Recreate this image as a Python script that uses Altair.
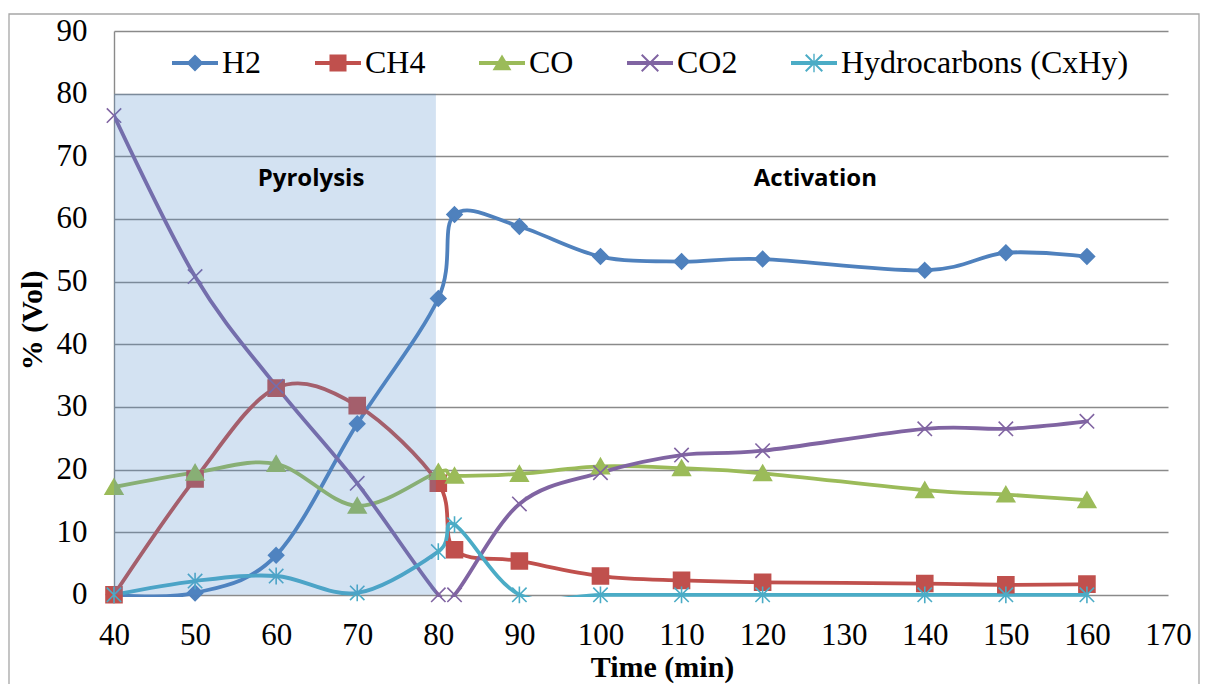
import altair as alt
import pandas as pd

# ---- data ----
time_min = [40, 50, 60, 70, 80, 82, 90, 100, 110, 120, 140, 150, 160]
h2 = [0.0, 0.3, 6.3, 27.3, 47.3, 60.7, 58.8, 54.0, 53.2, 53.6, 51.8, 54.6, 54.0]
ch4 = [0.0, 18.5, 33.0, 30.2, 17.8, 7.2, 5.4, 3.0, 2.3, 2.0, 1.8, 1.6, 1.7]
co = [17.2, 19.5, 20.9, 14.2, 19.6, 19.0, 19.3, 20.5, 20.2, 19.4, 16.7, 16.0, 15.1]
co2 = [76.5, 50.8, 33.3, 17.8, 0.0, 0.0, 14.5, 19.5, 22.3, 23.0, 26.5, 26.5, 27.7]
hc = [0.0, 2.2, 3.0, 0.3, 6.9, 11.2, 0.0, 0.0, 0.0, 0.0, 0.0, 0.0, 0.0]

series_names = ["H2", "CH4", "CO", "CO2", "Hydrocarbons (CxHy)"]
series_colors = ["#4F81BD", "#C0504D", "#9BBB59", "#8064A2", "#4BACC6"]

x_ticks = list(range(40, 180, 10))
y_ticks = list(range(0, 100, 10))

phase_labels = ["Pyrolysis", "Activation"]
phase_x = [64.3, 126.5]
phase_y = [66.4, 66.4]

shade_x = [40, 79.7]
shade_y = [0, 80]

# ---- tables ----
rows = []
for name, vals in zip(series_names, [h2, ch4, co, co2, hc]):
    for t, v in zip(time_min, vals):
        rows.append({"time": t, "value": v, "series": name})
df = pd.DataFrame(rows)

shade_df = pd.DataFrame({"x": [shade_x[0]], "x2": [shade_x[1]],
                         "y": [shade_y[0]], "y2": [shade_y[1]]})
label_df = pd.DataFrame({"label": phase_labels, "x": phase_x, "y": phase_y})

# ---- shapes ----
marker_shapes = [
    "M0,-0.95L0.95,0L0,0.95L-0.95,0Z",
    "M-1,-1H1V1H-1Z",
    "M0,-1L1.1,0.9H-1.1Z",
    "M-0.9,-0.9L0.9,0.9M-0.9,0.9L0.9,-0.9",
    "M-0.9,-0.9L0.9,0.9M-0.9,0.9L0.9,-0.9M0,-1.05L0,1.05",
]
bar = "M-1,-0.085H1V0.085H-1Z"
xmark = ("M-0.33,-0.39L0.39,0.33L0.33,0.39L-0.39,-0.33Z"
         "M-0.39,0.33L0.33,-0.39L0.39,-0.33L-0.33,0.39Z")
legend_shapes = [
    bar + "M0,-0.37L0.37,0L0,0.37L-0.37,0Z",
    bar + "M-0.37,-0.37H0.37V0.37H-0.37Z",
    bar + "M0,-0.37L0.41,0.31H-0.41Z",
    bar + xmark,
    bar + xmark + "M-0.03,-0.4H0.03V0.4H-0.03Z",
]

serif = "Liberation Serif"

x_enc = alt.X("time:Q", scale=alt.Scale(domain=[40, 170], nice=False, zero=False),
              axis=alt.Axis(values=x_ticks, title="Time (min)", grid=False, domain=False,
                            ticks=False, tickSize=0, labelFont=serif, labelFontSize=31,
                            labelColor="black", labelPadding=47, labelBaseline="alphabetic",
                            labelFlush=False, labelOverlap=False,
                            titleFont=serif, titleFontSize=30, titleFontWeight="bold",
                            titleColor="black", titleX=548, titleY=79,
                            titleBaseline="alphabetic", titleAlign="center"))
y_enc = alt.Y("value:Q", scale=alt.Scale(domain=[-0.35, 90], nice=False, zero=False),
              axis=alt.Axis(values=y_ticks, title="% (Vol)", grid=True, gridColor="#8A8A8A",
                            gridWidth=1.4, domain=True, domainColor="#8A8A8A", domainWidth=1.4,
                            ticks=False, tickSize=0, labelFont=serif, labelFontSize=31,
                            labelColor="black", labelPadding=27, labelBaseline="middle",
                            labelFlush=False, labelOverlap=False,
                            titleFont=serif, titleFontSize=30, titleFontWeight="bold",
                            titleColor="black", titleX=-73, titleY=289, titleAngle=270,
                            titleBaseline="alphabetic", titleAlign="center"))

stroke_scale = alt.Scale(domain=series_names, range=series_colors)

base = alt.Chart(df)

lines = base.mark_line(interpolate="cardinal", strokeWidth=3.8, clip=True,
                       strokeCap="round", strokeJoin="round").encode(
    x=x_enc, y=y_enc,
    stroke=alt.Stroke("series:N", scale=stroke_scale, legend=None),
)

points = base.mark_point(filled=True, opacity=1, size=256, strokeWidth=1.6).encode(
    x="time:Q", y="value:Q",
    shape=alt.Shape("series:N", scale=alt.Scale(domain=series_names, range=marker_shapes),
                    legend=None),
    stroke=alt.Stroke("series:N", scale=stroke_scale, legend=None),
    fill=alt.condition(
        "datum.series === 'CO2' || datum.series === 'Hydrocarbons (CxHy)'",
        alt.value("transparent"),
        alt.Fill("series:N", scale=alt.Scale(domain=series_names, range=series_colors),
                 legend=None),
    ),
)

legend_layer = base.transform_filter("false").mark_point(filled=True, opacity=1).encode(
    x="time:Q", y="value:Q",
    color=alt.Color("series:N", scale=alt.Scale(domain=series_names, range=series_colors),
                    legend=alt.Legend(title=None, orient="none", legendX=58, legendY=9,
                                      direction="horizontal", columns=5,
                                      labelFont=serif, labelFontSize=32, labelColor="black",
                                      labelOffset=4, labelLimit=600, columnPadding=53,
                                      symbolSize=2116, symbolStrokeWidth=0,
                                      symbolOpacity=1, padding=0)),
    shape=alt.Shape("series:N", scale=alt.Scale(domain=series_names, range=legend_shapes)),
)

shade = alt.Chart(shade_df).mark_rect(color="#4F8BCB", opacity=0.25).encode(
    x="x:Q", x2="x2:Q", y="y:Q", y2="y2:Q"
)

labels = alt.Chart(label_df).mark_text(font="Open Sans", fontWeight="bold", fontSize=24,
                                       color="black", baseline="middle", align="center").encode(
    x="x:Q", y="y:Q", text="label:N"
)

frame = alt.Chart(alt.Data(values=[{}])).mark_rect(fill="transparent", stroke="#A6A6A6",
                                                   strokeWidth=1.3).encode(
    x=alt.value(-105), x2=alt.value(1085), y=alt.value(-17), y2=alt.value(700)
)

chart = alt.layer(frame, lines, points, legend_layer, shade, labels).resolve_scale(
    color="independent", shape="independent"
).properties(
    width=1054, height=566,
    padding={"left": 106, "top": 23, "right": 32, "bottom": 87},
    autosize=alt.AutoSizeParams(type="none"),
    background="white",
).configure_view(stroke=None)

chart.save("out.html", embed_options={"renderer": "svg", "actions": False})
